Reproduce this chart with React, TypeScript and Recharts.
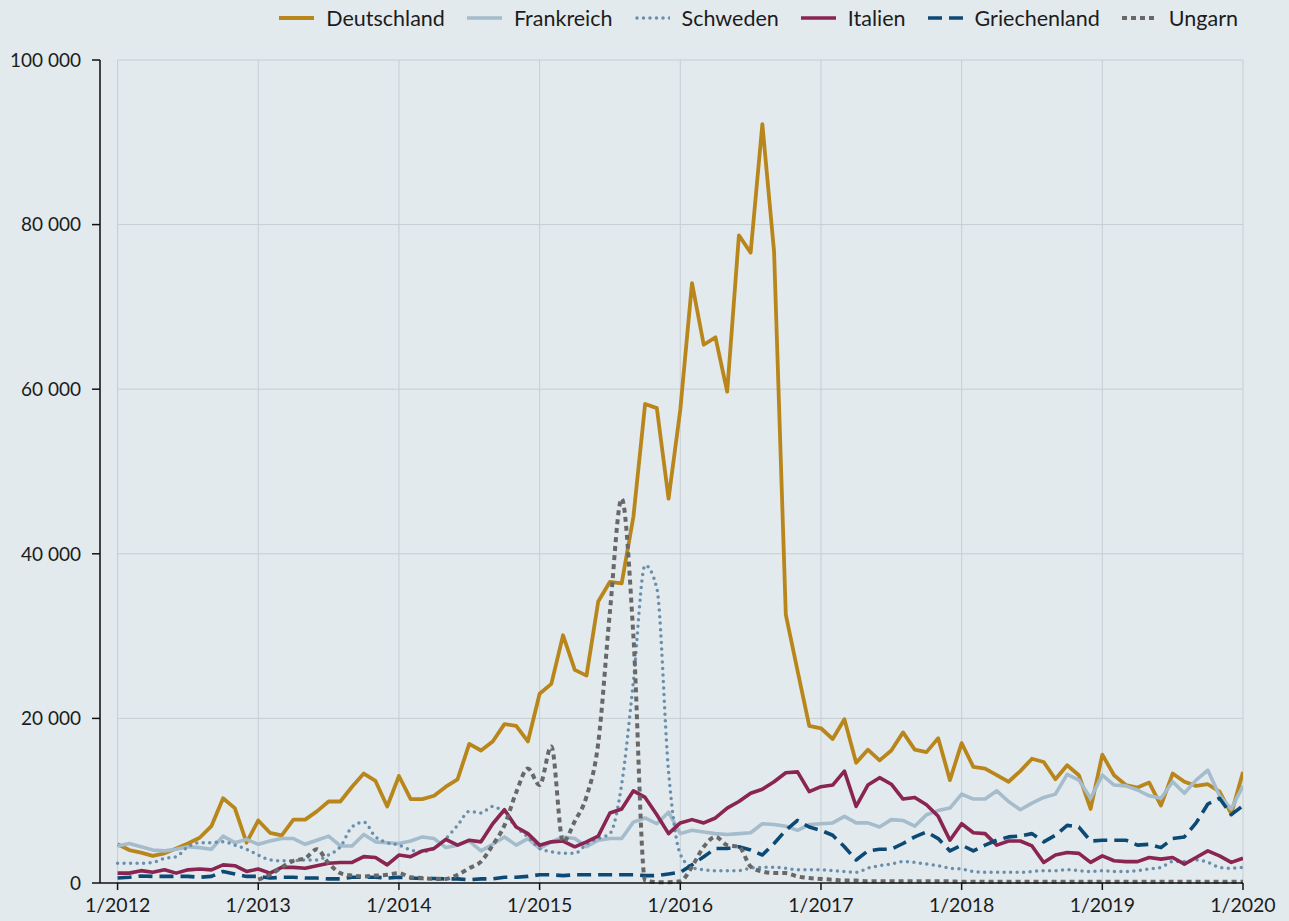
import React from 'react';
import { LineChart, Line, XAxis, YAxis, CartesianGrid, Legend, ReferenceLine } from 'recharts';

// Months from 1/2012 to 1/2020 (97 monthly observations)
const startYear = 2012;
const monthCount = 97;
const months: string[] = Array.from({ length: monthCount }, (_, i) => `${(i % 12) + 1}/${startYear + Math.floor(i / 12)}`);

const yearTicks = [0, 12, 24, 36, 48, 60, 72, 84, 96];
const yearTickLabels = ['1/2012', '1/2013', '1/2014', '1/2015', '1/2016', '1/2017', '1/2018', '1/2019', '1/2020'];
const valueTicks = [0, 20000, 40000, 60000, 80000, 100000];
const gridValues = [20000, 40000, 60000, 80000, 100000];

const deutschland = [
  4700, 4000, 3700, 3300, 3600, 4200, 4800, 5500, 6900, 10300, 9100, 4900,
  7600, 6100, 5800, 7700, 7700, 8700, 9900, 9900, 11700, 13300, 12400, 9300,
  13000, 10200, 10200, 10600, 11700, 12600, 16900, 16100, 17200, 19300, 19100, 17200,
  23000, 24200, 30100, 25900, 25200, 34200, 36600, 36400, 44500, 58200, 57700, 46700,
  57500, 72900, 65400, 66300, 59700, 78700, 76600, 92200, 76700, 32600, 25800, 19100,
  18800, 17500, 19900, 14600, 16200, 14900, 16100, 18300, 16200, 15900, 17600, 12500,
  17000, 14100, 13900, 13100, 12300, 13600, 15100, 14700, 12600, 14300, 13100, 9000,
  15600, 13100, 11900, 11600, 12200, 9400, 13300, 12300, 11800, 12000, 11100, 8400,
  13500,
];

const frankreich = [
  4500, 4800, 4400, 4000, 3900, 4100, 4400, 4300, 4100, 5700, 4900, 5300,
  4700, 5100, 5400, 5400, 4700, 5200, 5700, 4500, 4500, 5900, 5000, 4900,
  4800, 5100, 5600, 5400, 4300, 4600, 5100, 3900, 4700, 5600, 4600, 5400,
  4200, 5000, 5600, 5400, 4400, 5200, 5400, 5400, 7400, 7900, 7200, 8600,
  6000, 6400, 6200, 6000, 5900, 6000, 6100, 7200, 7100, 6900, 6400, 7100,
  7200, 7300, 8100, 7300, 7300, 6800, 7700, 7600, 6900, 8300, 8800, 9100,
  10800, 10200, 10200, 11200, 9900, 8900, 9700, 10400, 10800, 13200, 12500, 10300,
  13100, 11900, 11800, 11300, 10600, 10300, 12300, 10900, 12500, 13700, 10600, 9000,
  11800,
];

const schweden = [
  2400, 2400, 2400, 2500, 3000, 3200, 4400, 4900, 4900, 5000, 4600, 4100,
  3400, 2800, 2700, 2700, 2800, 2800, 3400, 4400, 6800, 7400, 5600, 4900,
  4600, 4000, 3800, 4200, 5400, 7000, 8700, 8500, 9300, 8500, 6800, 5600,
  4200, 3800, 3600, 3600, 4700, 5400, 6000, 12000, 24500, 38600, 35800, 13500,
  3500, 1900, 1600, 1500, 1500, 1500, 1800, 1900, 1900, 1800, 1600, 1600,
  1600, 1500, 1400, 1300, 1800, 2100, 2300, 2600, 2500, 2300, 2100, 1800,
  1700, 1400, 1300, 1300, 1300, 1300, 1400, 1500, 1500, 1600, 1500, 1400,
  1500, 1400, 1400, 1500, 1700, 1900, 2600, 2600, 2800, 2500, 1900, 1800,
  1900,
];

const italien = [
  1200, 1200, 1500, 1300, 1600, 1200, 1600, 1700, 1600, 2200, 2100, 1400,
  1700, 1200, 1900, 1900, 1800, 2100, 2400, 2500, 2500, 3200, 3100, 2200,
  3400, 3200, 3900, 4200, 5300, 4600, 5200, 5000, 7200, 8900, 6800, 6000,
  4600, 5000, 5100, 4400, 5000, 5700, 8500, 9000, 11200, 10400, 8300, 6000,
  7300, 7700, 7300, 7900, 9100, 9900, 10900, 11400, 12300, 13400, 13500, 11100,
  11700, 11900, 13600, 9300, 11900, 12800, 12000, 10200, 10400, 9500, 8100, 5200,
  7200, 6100, 6000, 4600, 5100, 5100, 4500, 2500, 3400, 3700, 3600, 2500,
  3300, 2700, 2600, 2600, 3100, 2900, 3100, 2300, 3100, 3900, 3300, 2500,
  3000,
];

const griechenland = [
  600, 700, 850, 800, 800, 800, 800, 700, 800, 1400, 1100, 800,
  800, 600, 700, 700, 600, 600, 500, 500, 700, 700, 700, 600,
  700, 600, 550, 550, 500, 500, 400, 500, 500, 700, 700, 800,
  1000, 1000, 900, 1000, 1000, 1000, 1000, 1000, 1000, 900, 900, 1100,
  1300, 2200, 3200, 4200, 4200, 4400, 4000, 3400, 4800, 6400, 7600, 6800,
  6400, 5800, 4400, 2800, 3900, 4100, 4100, 4800, 5600, 6200, 5400, 3900,
  4600, 3900, 4600, 5200, 5600, 5700, 6000, 5000, 5800, 7000, 6800, 5100,
  5200, 5200, 5200, 4600, 4700, 4300, 5400, 5600, 7300, 9600, 10300, 8300,
  9400,
];

// Ungarn: no values shown for 2012
const ungarn: (number | null)[] = [
  null, null, null, null, null, null, null, null, null, null, null, null,
  400, 1000, 1900, 2700, 3000, 4100, 2400, 1200, 900, 800, 900, 1000,
  1200, 700, 600, 500, 500, 1000, 1800, 2600, 4600, 7000, 11000, 13900,
  11900, 16600, 5000, 7500, 10500, 17000, 33000, 46700, 30000, 300, 100, 100,
  200, 2000, 4400, 5600, 4600, 4400, 2000, 1400, 1200, 1200, 800, 600,
  500, 400, 300, 300, 200, 200, 200, 200, 200, 200, 200, 200,
  150, 150, 150, 150, 150, 150, 150, 150, 150, 150, 150, 150,
  150, 150, 150, 150, 150, 150, 150, 150, 150, 150, 150, 150,
  150,
];

const data = months.map((label, i) => ({
  m: i,
  label,
  Deutschland: deutschland[i],
  Frankreich: frankreich[i],
  Schweden: schweden[i],
  Italien: italien[i],
  Griechenland: griechenland[i],
  Ungarn: ungarn[i],
}));

type SeriesStyle = {
  key: string;
  color: string;
  width: number;
  dash?: string;
  cap?: 'round' | 'butt' | 'square';
  curve: 'linear' | 'monotone';
};

const seriesStyles: SeriesStyle[] = [
  { key: 'Deutschland', color: '#b9861b', width: 3.8, curve: 'linear' },
  { key: 'Frankreich', color: '#a4bccb', width: 3.6, curve: 'linear' },
  { key: 'Schweden', color: '#6a8fac', width: 3.5, dash: '0 6.5', cap: 'round', curve: 'monotone' },
  { key: 'Italien', color: '#8a2552', width: 3.6, curve: 'linear' },
  { key: 'Griechenland', color: '#0c4a75', width: 3.6, dash: '14 7', curve: 'linear' },
  { key: 'Ungarn', color: '#686868', width: 4, dash: '5 4', curve: 'monotone' },
];

const FONT = 'Lato, "Noto Sans", sans-serif';
const BG = '#e2eaee';
const GRID = '#c6ced3';
const TEXT = '#1c1c1c';

const fmtValue = (v: number) => String(v).replace(/\B(?=(\d{3})+(?!\d))/g, '\u00A0');
const fmtYear = (v: number) => yearTickLabels[yearTicks.indexOf(v)] ?? '';

const LegendContent = () => (
  <div style={{ display: 'flex', justifyContent: 'flex-end', alignItems: 'center', fontFamily: FONT, fontSize: 21.5, color: TEXT }}>
    {seriesStyles.map((s) => (
      <div key={s.key} style={{ display: 'flex', alignItems: 'center', marginLeft: 22 }}>
        <svg width={35} height={10} style={{ marginRight: 12 }}>
          <line x1={s.dash && s.cap === 'round' ? 2 : 0} y1={5} x2={35} y2={5} stroke={s.color} strokeWidth={s.width} strokeDasharray={s.dash} strokeLinecap={s.cap ?? 'butt'} />
        </svg>
        <span>{s.key}</span>
      </div>
    ))}
  </div>
);

export default function App() {
  return (
    <div style={{ position: 'absolute', top: 0, left: 0, width: 1289, height: 921, background: BG }}>
      <LineChart width={1289} height={921} data={data} margin={{ top: 60, right: 46, bottom: 0, left: 0 }}>
        <CartesianGrid horizontal={false} vertical stroke={GRID} strokeWidth={1} />
        {gridValues.map((v) => (
          <ReferenceLine key={v} segment={[{ x: 0, y: v }, { x: 96, y: v }]} stroke={GRID} strokeWidth={1} />
        ))}
        <XAxis
          dataKey="m"
          type="number"
          domain={[-1.5, 96]}
          allowDataOverflow
          ticks={yearTicks}
          tickFormatter={fmtYear}
          interval={0}
          height={38}
          axisLine={{ stroke: '#111', strokeWidth: 1.5 }}
          tickLine={{ stroke: '#111', strokeWidth: 1.5 }}
          tickSize={7}
          tickMargin={8}
          tick={{ fill: TEXT, fontSize: 19.5, fontFamily: FONT }}
        />
        <YAxis
          type="number"
          domain={[0, 100000]}
          ticks={valueTicks}
          tickFormatter={fmtValue}
          interval={0}
          width={100}
          axisLine={{ stroke: '#111', strokeWidth: 1.5 }}
          tickLine={{ stroke: '#111', strokeWidth: 1.5 }}
          tickSize={8}
          tickMargin={11}
          tick={{ fill: TEXT, fontSize: 19, fontFamily: FONT }}
        />
        <Legend
          layout="horizontal"
          verticalAlign="middle"
          align="center"
          wrapperStyle={{ top: 5, left: 0, width: 1238 }}
          content={() => <LegendContent />}
        />
        {seriesStyles.map((s) => (
          <Line
            key={s.key}
            dataKey={s.key}
            type={s.curve}
            stroke={s.color}
            strokeWidth={s.width}
            strokeDasharray={s.dash}
            strokeLinecap={s.cap ?? 'butt'}
            strokeLinejoin="round"
            dot={false}
            activeDot={false}
            connectNulls={false}
            isAnimationActive={false}
          />
        ))}
      </LineChart>
    </div>
  );
}
